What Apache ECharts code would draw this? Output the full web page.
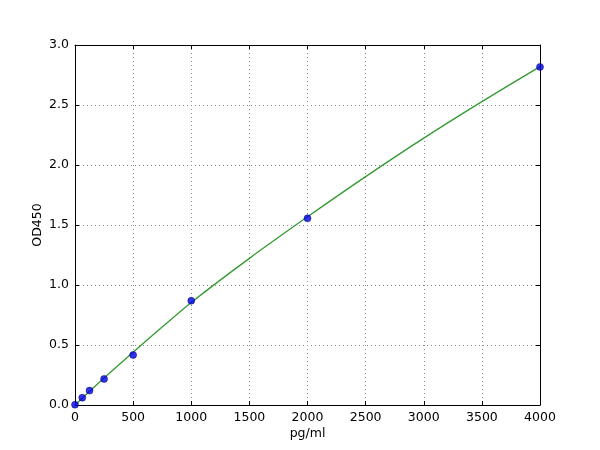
<!DOCTYPE html>
<html><head><meta charset="utf-8">
<script src="https://cdn.jsdelivr.net/npm/echarts@6/dist/echarts.min.js"></script>
<style>html,body{margin:0;padding:0;background:#fff}#c{width:600px;height:450px}</style>
</head><body><div id="c"></div>
<script>
const concX = [0, 62.5, 125, 250, 500, 1000, 2000, 4000];
const odY = [0.003, 0.061, 0.12, 0.217, 0.417, 0.869, 1.556, 2.817];
const fitX = [0, 250, 500, 750, 1000, 1500, 2000, 2500, 3000, 3500, 4000];
const fitY = [0.0, 0.225, 0.44, 0.65, 0.855, 1.222, 1.568, 1.903, 2.224, 2.528, 2.82];
const xTicks = [0, 500, 1000, 1500, 2000, 2500, 3000, 3500, 4000];
const yTicks = [0.0, 0.5, 1.0, 1.5, 2.0, 2.5, 3.0];

const font = 'DejaVu Sans';
const chart = echarts.init(document.getElementById('c'), null, {renderer: 'canvas'});
const tickStyle = {show: true, inside: true, length: 4, lineStyle: {color: '#000', width: 1}};
const lineStyle = {show: true, onZero: false, lineStyle: {color: '#000', width: 1}};
const gridLine = {show: true, lineStyle: {color: '#8c8c8c', type: [1, 3], width: 1}};
chart.setOption({
  animation: false,
  grid: {left: 75, right: 60, top: 45, bottom: 45, containLabel: false},
  xAxis: [{
    type: 'value', min: 0, max: 4000, interval: 500, position: 'bottom',
    name: 'pg/ml', nameLocation: 'middle', nameGap: 22, nameMoveOverlap: false,
    nameTextStyle: {fontFamily: font, fontSize: 12.5, color: '#000'},
    axisLine: lineStyle, axisTick: tickStyle, splitLine: gridLine,
    axisLabel: {fontFamily: font, fontSize: 12.5, color: '#000', margin: 6,
      formatter: v => xTicks.includes(v) ? String(v) : ''}
  }, {
    type: 'value', min: 0, max: 4000, interval: 500, position: 'top',
    axisLine: lineStyle, axisTick: tickStyle, splitLine: {show: false}, axisLabel: {show: false}
  }],
  yAxis: [{
    type: 'value', min: 0, max: 3, interval: 0.5, position: 'left',
    name: 'OD450', nameLocation: 'middle', nameGap: 31, nameRotate: 90, nameMoveOverlap: false,
    nameTextStyle: {fontFamily: font, fontSize: 12.5, color: '#000'},
    axisLine: lineStyle, axisTick: tickStyle, splitLine: gridLine,
    axisLabel: {fontFamily: font, fontSize: 12.5, color: '#000', margin: 6,
      formatter: v => yTicks.includes(v) ? v.toFixed(1) : ''}
  }, {
    type: 'value', min: 0, max: 3, interval: 0.5, position: 'right',
    axisLine: lineStyle, axisTick: tickStyle, splitLine: {show: false}, axisLabel: {show: false}
  }],
  series: [{
    type: 'line', xAxisIndex: 0, yAxisIndex: 0,
    data: fitX.map((x, i) => [x, fitY[i]]),
    smooth: 0.3, showSymbol: false, symbol: 'none',
    lineStyle: {color: '#339a33', width: 1.3}, z: 2
  }, {
    type: 'scatter', xAxisIndex: 0, yAxisIndex: 0,
    data: concX.map((x, i) => [x, odY[i]]),
    symbol: 'circle', symbolSize: 7,
    itemStyle: {color: '#0000e6', borderColor: '#00006a', borderWidth: 0.6}, z: 3
  }]
});
</script></body></html>
